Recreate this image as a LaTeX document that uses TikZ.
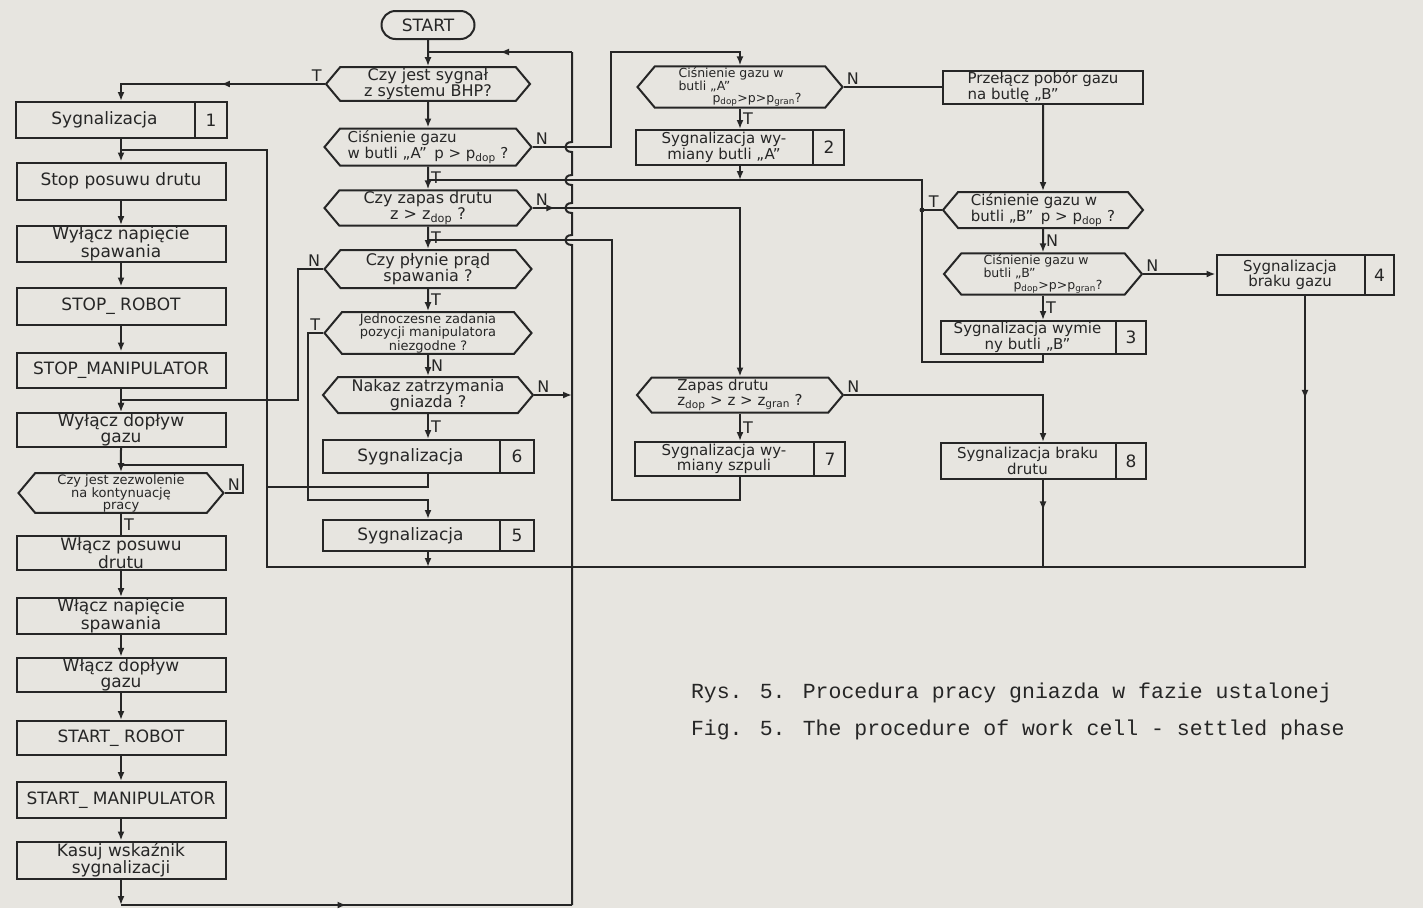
\documentclass[tikz,border=0pt]{standalone}
\usepackage{fontspec}
\setmainfont{DejaVu Sans}
\newfontfamily\capfont{Liberation Mono}
\usetikzlibrary{positioning,arrows.meta,shapes.symbols,shapes.multipart,calc,decorations.markings}
\definecolor{paper}{RGB}{231,229,224}
\definecolor{ink}{RGB}{38,38,38}
\newcommand{\fsm}{\fontsize{15}{14}\selectfont}
\newcommand{\ftn}{\fontsize{13}{11.5}\selectfont}
\newcommand{\fxs}{\fontsize{12.5}{10.5}\selectfont}
\newcommand{\sigtxt}[5]{\parbox[c][#3pt][c]{#1pt}{\centering #4}\nodepart{two}\parbox[c][#3pt][c]{#2pt}{\centering #5}}
\tikzset{midarr/.style={postaction={decorate},decoration={markings,mark=at position #1 with {\arrow{Latex[length=9pt,width=7pt]}}}}}

\begin{document}
\begin{tikzpicture}[x=1pt,y=-1pt,line width=2pt,color=ink,
    every node/.style={font=\fontsize{17}{16}\selectfont},
    proc/.style={draw,rectangle,minimum width=209pt,minimum height=35pt,inner sep=1pt,align=center},
    dec/.style={draw,signal,signal to=west and east,signal pointer angle=100,inner sep=1pt,align=center,
      minimum width=207pt,minimum height=36pt,font=\fontsize{16}{14.5}\selectfont},
    sigbox/.style={draw,rectangle split,rectangle split horizontal,rectangle split parts=2,inner sep=2pt},
    lbl/.style={font=\fontsize{16}{16}\selectfont,inner sep=2pt},
    arr/.style={-{Latex[length=9pt,width=7pt]}},
    captxt/.style={font=\capfont\fontsize{21.5}{24}\selectfont,inner sep=0pt}]
  \fill[paper] (0,0) rectangle (1423,908);

  % left column: stop and restart sequence
  \node[sigbox] (sig1) at (121,120) {\sigtxt{174}{27}{32}{Sygnalizacja}{1}};
  \node[proc,minimum height=37pt] (stop) at (121,181) {Stop posuwu drutu};
  \node[proc] (wyln) at (121,244) {Wyłącz napięcie\\spawania};
  \node[proc,minimum height=37pt] (stoprob) at (121,306) {STOP\_ ROBOT};
  \node[proc] (stopman) at (121,370) {STOP\_MANIPULATOR};
  \node[proc,minimum height=34pt] (wyldop) at (121,430) {Wyłącz dopływ\\gazu};
  \node[dec,minimum width=205pt,minimum height=39pt,font=\ftn] (zezw) at (121,493) {Czy jest zezwolenie\\na kontynuację\\pracy};
  \node[proc,minimum height=34pt] (wlpos) at (121,553) {Włącz posuwu\\drutu};
  \node[proc] (wlnap) at (121,616) {Włącz napięcie\\spawania};
  \node[proc,minimum height=34pt] (wldop) at (121,675) {Włącz dopływ\\gazu};
  \node[proc,minimum height=34pt] (startrob) at (121,738) {START\_ ROBOT};
  \node[proc,minimum height=36pt] (startman) at (121,800) {START\_ MANIPULATOR};
  \node[proc,minimum height=37pt] (kasuj) at (121,860) {Kasuj wskaźnik\\sygnalizacji};

  % middle column: checks
  \node[draw,rounded corners=14pt,minimum width=93pt,minimum height=28pt,inner sep=1pt] (start) at (428,25) {START};
  \node[dec,minimum width=204pt,minimum height=31pt] (d1) at (428,84) {Czy jest sygnał\\z systemu BHP?};
  \node[dec,minimum height=37pt,font=\fsm,align=left] (d2) at (428,147) {Ciśnienie gazu\\w butli „A”\enspace p > p\textsubscript{dop} ?};
  \node[dec,minimum height=33pt] (d3) at (428,208) {Czy zapas drutu\\z > z\textsubscript{dop} ?};
  \node[dec,minimum height=38pt] (d4) at (428,269) {Czy płynie prąd\\spawania ?};
  \node[dec,minimum height=37pt,font=\ftn] (d5) at (428,333) {Jednoczesne zadania\\pozycji manipulatora\\niezgodne ?};
  \node[dec,minimum width=210pt,minimum height=36pt] (d6) at (428,395) {Nakaz zatrzymania\\gniazda ?};
  \node[sigbox] (sig6) at (428,456.5) {\sigtxt{172}{29}{29}{Sygnalizacja}{6}};
  \node[sigbox] (sig5) at (428,535.5) {\sigtxt{172}{29}{27}{Sygnalizacja}{5}};

  % cylinder A and wire
  \node[dec,minimum width=205pt,minimum height=32pt,font=\fxs,align=left] (da2) at (740,87) {Ciśnienie gazu w\\butli „A”\\\hspace*{34pt}p\textsubscript{dop}>p>p\textsubscript{gran}?};
  \node[sigbox] (sig2) at (740,147.5) {\sigtxt{172}{26}{31}{\fsm Sygnalizacja wy-\\miany butli „A”}{2}};
  \node[dec,minimum width=206pt,minimum height=35pt,font=\fsm,align=left] (d7) at (740,395) {Zapas drutu\\z\textsubscript{dop} > z > z\textsubscript{gran} ?};
  \node[sigbox] (sig7) at (740,459) {\sigtxt{174}{26}{30}{\fsm Sygnalizacja wy-\\miany szpuli}{7}};

  % cylinder B
  \node[proc,minimum width=200pt,minimum height=33pt,font=\fsm,align=left] (przel) at (1043,87) {Przełącz pobór gazu\\na butlę „B”};
  \node[dec,minimum width=200pt,minimum height=36pt,font=\fsm,align=left] (db1) at (1043,210) {Ciśnienie gazu w\\butli „B”\enspace p > p\textsubscript{dop} ?};
  \node[dec,minimum width=198pt,minimum height=38pt,font=\fxs,align=left] (db2) at (1043,274) {Ciśnienie gazu w\\butli „B”\\\hspace*{30pt}p\textsubscript{dop}>p>p\textsubscript{gran}?};
  \node[sigbox] (sig3) at (1043,337.5) {\sigtxt{170}{25}{29}{\fsm Sygnalizacja wymie\\ny butli „B”}{3}};
  \node[sigbox] (sig8) at (1043,461) {\sigtxt{170}{25}{32}{\fsm Sygnalizacja braku\\drutu}{8}};
  \node[sigbox] (sig4) at (1305,275) {\sigtxt{143}{24}{36}{\fsm Sygnalizacja\\braku gazu}{4}};

  \node[captxt,anchor=west] (rys) at (690,693) {Rys. 5. Procedura pracy gniazda w fazie ustalonej};
  \node[captxt,anchor=west] (fig) at (690,730) {Fig. 5. The procedure of work cell - settled phase};

  % turning points
  \coordinate (bustop) at (572,52);
  \coordinate (busbot) at (572,905);
  \coordinate (ja) at (611,52);
  \coordinate (jtop) at (267,150);
  \coordinate (jbot) at (267,567);
  \coordinate (j6) at (267,487);
  \coordinate (kd4) at (298,400);
  \coordinate (kd5) at (308,500);
  \coordinate (kz) at (243,465);
  \coordinate (kb) at (922,180);
  \coordinate (k3) at (922,362);
  \coordinate (k7) at (612,500);
  \coordinate (j7) at (612,240);

  % main checks
  \draw[arr] (start) -- (d1);
  \draw[arr] (d1) -- (d2);
  \draw[arr] (d2) -- node[lbl,right] (t2) {T} (d3);
  \draw[arr] (d3) -- node[lbl,right] (t3) {T} (d4);
  \draw[arr] (d4) -- node[lbl,right] (t4) {T} (d5);
  \draw[arr] (d5) -- node[lbl,right] (t5) {N} (d6);
  \draw[arr] (d6) -- node[lbl,right] (t6) {T} (sig6);

  % back to START
  \draw[arr] (kasuj) -- (kasuj |- busbot);
  \draw[midarr=0.5] (kasuj |- busbot) -- (busbot);
  \draw (busbot) -- (572,245) .. controls (563,245) and (563,235) .. (572,235)
    -- (572,213) .. controls (563,213) and (563,203) .. (572,203)
    -- (572,185) .. controls (563,185) and (563,175) .. (572,175)
    -- (572,152) .. controls (563,152) and (563,142) .. (572,142) -- (bustop);
  \draw[midarr=0.5] (bustop) -- (bustop -| start);

  % BHP signal and stop sequence
  \draw[arr,midarr=0.47] (d1.west) node[lbl,above left] (t1) {T} -| (sig1.north);
  \draw[arr] (sig1) -- (stop);
  \draw[arr] (stop) -- (wyln);
  \draw[arr] (wyln) -- (stoprob);
  \draw[arr] (stoprob) -- (stopman);
  \draw[arr] (stopman) -- (wyldop);
  \draw[arr] (wyldop) -- (zezw);
  \draw (zezw.east) node[lbl,above right] (nz) {N} -| (kz) -- (kz -| zezw);
  \draw (zezw) -- node[lbl,right] (tz) {T} (wlpos);
  \draw[arr] (wlpos) -- (wlnap);
  \draw[arr] (wlnap) -- (wldop);
  \draw[arr] (wldop) -- (startrob);
  \draw[arr] (startrob) -- (startman);
  \draw[arr] (startman) -- (kasuj);

  % gas cylinders
  \draw[arr] (d2.east) node[lbl,above right] (n2) {N} -| (ja) -| (da2.north);
  \draw (da2.east) node[lbl,above right] (n9) {N} -- (przel);
  \draw[arr] (da2) -- node[lbl,right] (t9) {T} (sig2);
  \draw[arr] (sig2) -- (sig2 |- kb);
  \draw (sig3) |- (k3) |- (d2 |- kb);
  \draw (db1.west) node[lbl,above left] (t8) {T} -- (db1.west -| k3);
  \fill (db1.west -| k3) circle (2.5pt);
  \draw[arr] (przel) -- (db1);
  \draw[arr] (db1) -- node[lbl,right] (n10) {N} (db2);
  \draw[arr] (db2) -- node[lbl,right] (t10) {T} (sig3);
  \draw[arr] (db2.east) node[lbl,above right] (n11) {N} -- (db2.east -| sig4.west);

  % wire
  \draw[arr,midarr=0.06] (d3.east) node[lbl,above right] (n3) {N} -| (d7.north);
  \draw[arr] (d7) -- node[lbl,right] (t7) {T} (sig7);
  \draw (sig7) |- (k7) |- (d3 |- j7);
  \draw[arr] (d7.east) node[lbl,above right] (n7) {N} -| (sig8.north);

  % welding current, positions, stop order
  \draw[arr] (d4.west) node[lbl,above left] (n4) {N} -| (kd4) -| (wyldop.north);
  \draw[arr] (d5.west) node[lbl,above left] (t5l) {T} -| (kd5) -| (sig5.north);
  \draw[arr] (d6.east) node[lbl,above right] (n6) {N} -- (d6.east -| bustop);
  \draw (sig6) |- (j6);
  \draw[arr] (sig5) -- (sig5 |- jbot);

  % alarms back to stop sequence
  \draw[midarr=0.055] (sig4) |- (jbot) -- (jtop) -- (jtop -| stop);
  \draw[midarr=0.35] (sig8) -- (sig8 |- jbot);
\end{tikzpicture}
\end{document}
